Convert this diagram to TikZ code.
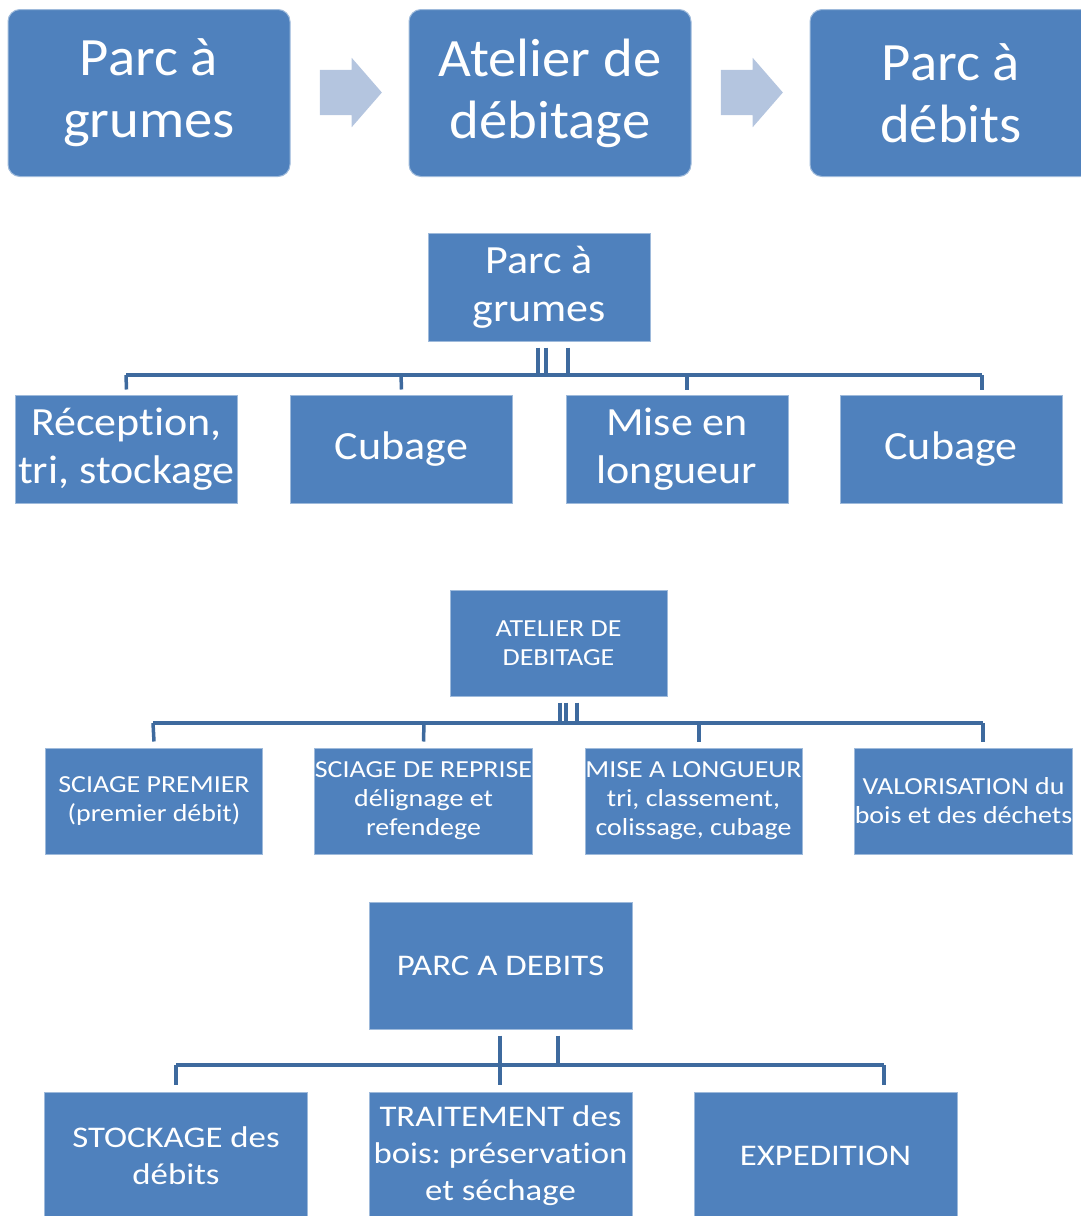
\documentclass[tikz,border=0pt]{standalone}
\usepackage{fontspec}
\setmainfont{Carlito}[Ligatures=NoCommon]
\newfontfamily\widerA{Carlito}[FakeStretch=1.05,Ligatures=NoCommon]
\newfontfamily\widerB{Carlito}[FakeStretch=1.10,Ligatures=NoCommon]
\newfontfamily\widerC{Carlito}[FakeStretch=1.14,Ligatures=NoCommon]
\newfontfamily\widerD{Carlito}[FakeStretch=1.16,Ligatures=NoCommon]
\usetikzlibrary{shapes.arrows}
\definecolor{boxblue}{HTML}{4F81BD}
\definecolor{linkblue}{HTML}{3E6A9E}
\definecolor{arrowblue}{HTML}{B4C5DF}
\frenchspacing
\begin{document}
\begin{tikzpicture}[x=1pt,y=-1pt,
  box/.style={fill=boxblue,draw=boxblue!55!white,line width=1pt,text=white,
    align=center,inner sep=0pt},
  topbox/.style={box,rounded corners=12pt,minimum width=282pt,minimum height=167pt,
    font=\widerA\fontsize{54}{62}\selectfont},
  bigbox/.style={box,minimum width=222pt,minimum height=108pt,
    font=\widerB\fontsize{40}{48}\selectfont},
  smallbox/.style={box,minimum width=217pt,minimum height=106pt,
    font=\widerC\fontsize{24.5}{29}\selectfont},
  midbox/.style={box,minimum width=263pt,minimum height=127pt,
    font=\widerD\fontsize{30}{37}\selectfont},
  blockarrow/.style={single arrow,fill=arrowblue,inner xsep=0pt,inner ysep=22.5pt,
    minimum height=62pt,single arrow head extend=12pt,
    single arrow tip angle=98},
  link/.style={draw=linkblue,line width=3.5pt}]
\useasboundingbox (0,0) rectangle (1081,1216);
\clip (0,0) rectangle (1081,1216);

\node[topbox] (tpg) at (149,93) {Parc à\\grumes};
\node[topbox] (tad) at (550,93) {Atelier de\\débitage};
\node[topbox] (tpd) at (951,93) {Parc à\\débits};
\node[blockarrow] (ar1) at (341,92.5) {};
\node[blockarrow] (ar2) at (742,92.5) {};

\node[bigbox] (pg) at (539,287) {Parc à\\grumes};
\node[bigbox] (pg1) at (126.5,449) {Réception,\\tri, stockage};
\node[bigbox] (pg2) at (401.5,449) {Cubage};
\node[bigbox] (pg3) at (677,449) {Mise en\\longueur};
\node[bigbox] (pg4) at (951,449) {Cubage};
\coordinate (pgA) at (126,375);
\coordinate (pgB) at (401,375);
\coordinate (pgC) at (687,375);
\coordinate (pgD) at (982,375);
\draw[link] (pgA) -- (pgD);
\draw[link] ([xshift=-1pt,yshift=-6pt]pg.south) -- (538,375);
\draw[link] ([xshift=7pt,yshift=-6pt]pg.south) -- (546,375);
\draw[link] ([xshift=29pt,yshift=-6pt]pg.south) -- (568,375);
\draw[link] (pgA) -- ([yshift=5pt]pg1.north);
\draw[link] (pgB) -- ([yshift=5pt]pg2.north);
\draw[link] (pgC) -- ([xshift=10pt,yshift=5pt]pg3.north);
\draw[link] (pgD) -- ([xshift=31pt,yshift=5pt]pg4.north);

\node[smallbox] (ad) at (558.5,643) {ATELIER DE\\DEBITAGE};
\node[smallbox] (ad1) at (154,801) {SCIAGE PREMIER\\(premier débit)};
\node[smallbox] (ad2) at (423.5,801) {SCIAGE DE REPRISE\\délignage et\\refendege};
\node[smallbox] (ad3) at (693.5,801) {MISE A LONGUEUR\\tri, classement,\\colissage, cubage};
\node[smallbox] (ad4) at (963.5,801) {VALORISATION du\\bois et des déchets};
\coordinate (adA) at (153,723);
\coordinate (adB) at (424,723);
\coordinate (adC) at (699,723);
\coordinate (adD) at (983,723);
\draw[link] (adA) -- (adD);
\draw[link] ([xshift=1.5pt,yshift=-6pt]ad.south) -- (560,723);
\draw[link] ([xshift=7.5pt,yshift=-6pt]ad.south) -- (566,723);
\draw[link] ([xshift=18.5pt,yshift=-6pt]ad.south) -- (577,723);
\draw[link] (adA) -- ([yshift=6pt]ad1.north);
\draw[link] (adB) -- ([yshift=6pt]ad2.north);
\draw[link] (adC) -- ([xshift=5.5pt,yshift=6pt]ad3.north);
\draw[link] (adD) -- ([xshift=19.5pt,yshift=6pt]ad4.north);

\node[midbox] (pd) at (500.5,965.5) {PARC A DEBITS};
\node[midbox] (pd1) at (176,1155.5) {STOCKAGE des\\débits};
\node[midbox] (pd2) at (500.5,1155.5) {TRAITEMENT des\\bois: préservation\\et séchage};
\node[midbox] (pd3) at (825.5,1155.5) {EXPEDITION};
\coordinate (pdA) at (176,1065);
\coordinate (pdD) at (884,1065);
\draw[link] (pdA) -- (pdD);
\draw[link] ([xshift=-0.5pt,yshift=-6pt]pd.south) -- ([xshift=-0.5pt,yshift=7pt]pd2.north);
\draw[link] ([xshift=57.5pt,yshift=-6pt]pd.south) -- (558,1065);
\draw[link] (pdA) -- ([yshift=7pt]pd1.north);
\draw[link] (pdD) -- ([xshift=58.5pt,yshift=7pt]pd3.north);
\end{tikzpicture}
\end{document}
